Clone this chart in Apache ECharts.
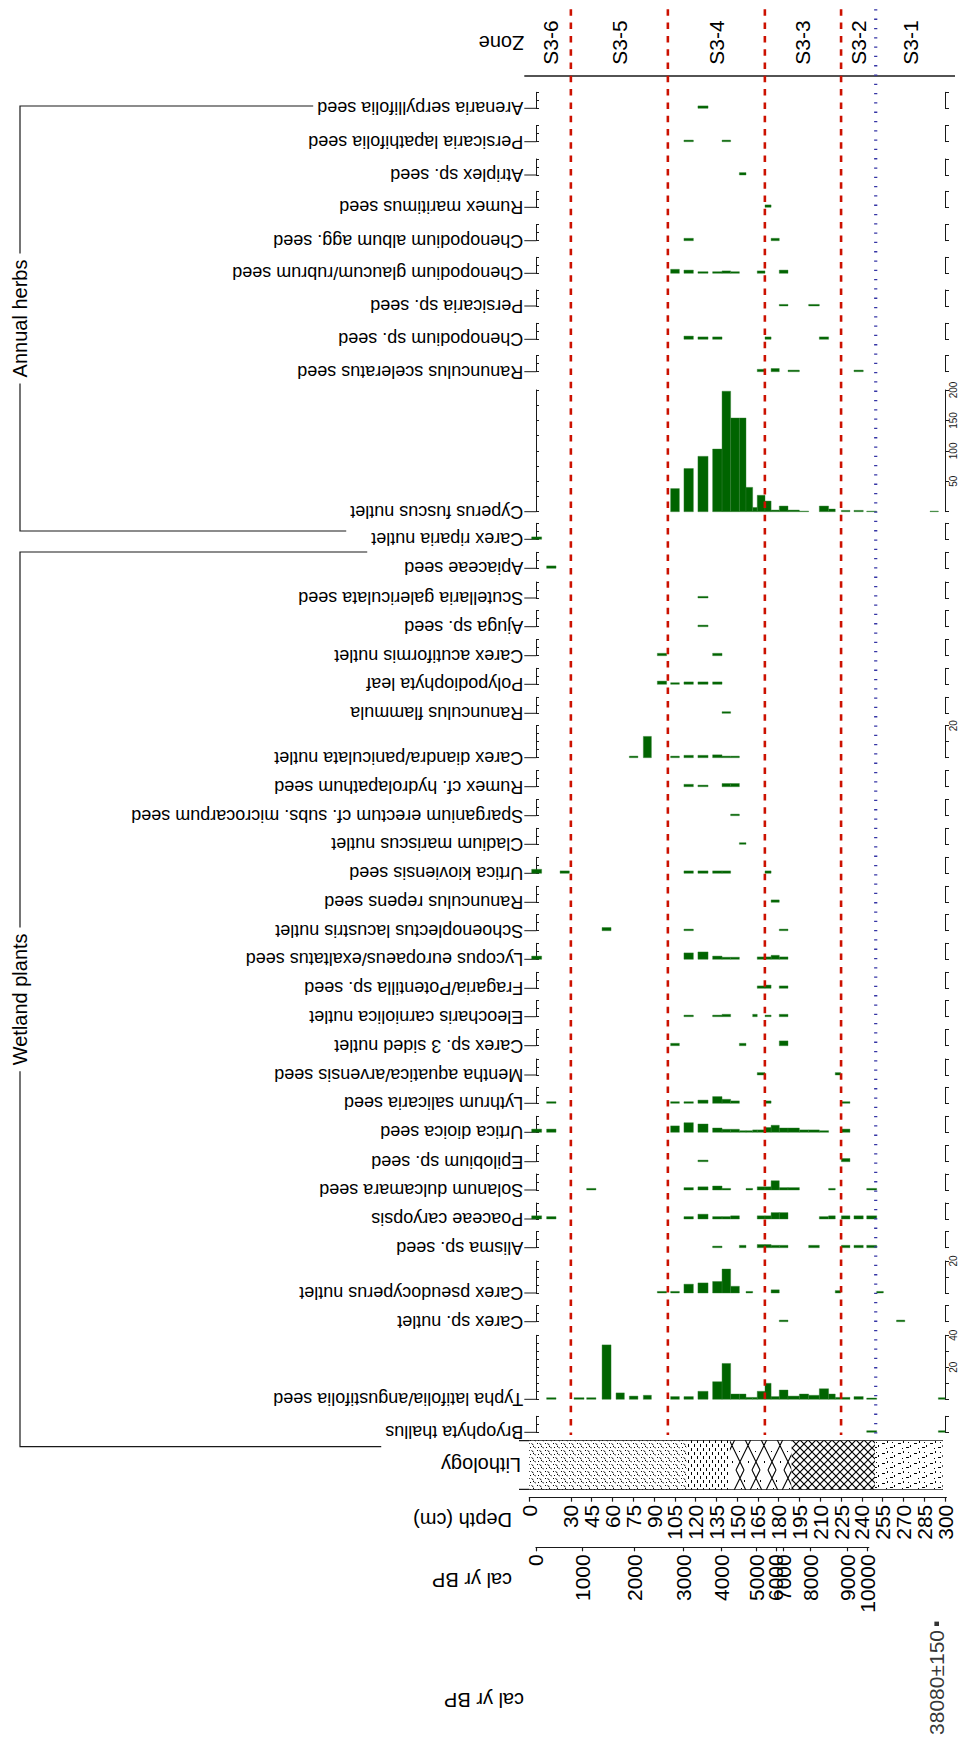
<!DOCTYPE html>
<html>
<head>
<meta charset="utf-8">
<script src="https://cdn.jsdelivr.net/npm/echarts@6/dist/echarts.min.js"></script>
<style>
html,body{margin:0;padding:0;background:#fff;}
#chart{width:969px;height:1741px;}
</style>
</head>
<body>
<div id="chart"></div>
<script>
// ---- Sample intervals (cm) ----
const sampleTop  = [1.7,12.5,22.2,32.3,41.4,52.5,62.6,72.2,82.3,92.4,102.0,111.6,121.7,132.3,139.1,145.3,151.6,156.4,161.2,164.5,170.1,174.5,180.4,186.7,194.9,201.6,209.3,216.0,220.8,225.2,234.3,243.5,250.7,265.0,289.2,295.2];
const sampleBase = [8.9,19.3,28.9,39.5,48.1,59.0,68.6,78.4,88.1,99.1,108.3,118.4,129.0,139.1,145.3,151.6,156.4,161.2,164.5,170.1,174.5,180.4,186.7,194.9,201.6,209.3,216.0,220.8,224.7,231.4,241.0,250.7,255.5,271.0,295.2,300.0];

// ---- Macrofossil counts: [sample index, count] ----
const bryophyta      = [[31,1],[35,1]];
const typha          = [[1,1],[3,1],[4,1],[5,34],[6,4],[7,2],[8,2.5],[10,1.7],[11,1.7],[12,5],[13,11],[14,22.4],[15,3.3],[16,3.3],[17,1.2],[18,1.2],[19,5],[20,10],[21,1.7],[22,5.8],[23,2],[24,3.3],[25,2.5],[26,6.6],[27,3.3],[28,1.2],[29,1.2],[30,1.7],[31,0.8],[35,1]];
const carexSp        = [[22,1],[33,1]];
const carexPseudo    = [[9,1],[10,1],[11,5.5],[12,6.3],[13,7.2],[14,15],[15,4.2],[17,1],[21,2],[28,1.5],[32,1]];
const alisma         = [[13,1],[16,1.5],[19,2],[20,2],[21,1.5],[22,1.5],[25,1.5],[29,1.5],[30,1.5],[31,1.5]];
const poaceae        = [[0,2],[1,1.5],[11,1.5],[12,3],[13,1.5],[14,1.5],[15,2],[19,2],[20,2],[21,4],[22,4],[26,1.5],[27,2],[29,2],[30,2],[31,2]];
const solanum        = [[4,1],[11,1.5],[12,2],[13,2.5],[14,1],[17,1],[19,2],[20,2],[21,5.8],[22,1.5],[23,1.5],[27,1],[31,1]];
const epilobium      = [[12,1],[29,2]];
const urticaDioica   = [[0,2],[1,2],[10,4],[11,6],[12,5.2],[13,2.7],[14,1.9],[15,1.9],[16,1],[17,1],[18,1.5],[19,1.5],[20,3],[21,4.4],[22,2.7],[23,2.7],[24,1.5],[25,1.5],[26,1],[29,2]];
const lythrum        = [[1,1],[10,1],[11,1],[12,2],[13,4.2],[14,2.5],[15,1.5],[20,1.5],[29,1]];
const mentha         = [[19,1.5],[28,1.5]];
const carex3         = [[10,1.5],[16,1.5],[22,3]];
const eleocharis     = [[11,1],[13,1],[14,1.5],[18,1.5],[20,1],[22,1.5]];
const fragaria       = [[19,1.5],[20,2],[22,1.5]];
const lycopus        = [[0,2],[11,4],[12,4.6],[13,2],[14,1.3],[15,1.3],[19,1.5],[20,1.5],[21,2.5],[22,1.5]];
const schoenoplectus = [[5,2],[11,1],[22,1]];
const ranRepens      = [[21,1.5]];
const urticaKiov     = [[0,2.5],[2,1.5],[11,1.5],[12,1.5],[13,1.5],[14,1.5],[20,1.5]];
const cladium        = [[16,1]];
const sparganium     = [[15,1]];
const rumexHydro     = [[11,1.5],[12,1],[14,2],[15,2]];
const carexDiandra   = [[7,1],[8,13.3],[10,1],[11,1.5],[12,1.5],[13,1.8],[14,1],[15,1]];
const ranFlammula    = [[14,1]];
const polypodiophyta = [[9,2],[10,1],[11,1.5],[12,1.5],[13,1.5]];
const carexAcut      = [[9,1.5],[13,1.5]];
const ajuga          = [[12,1]];
const scutellaria    = [[12,1]];
const apiaceae       = [[1,1.5]];
const carexRiparia   = [[0,1.5]];
const cyperus        = [[10,38],[11,71],[12,91],[13,103],[14,198],[15,154],[16,154],[17,40],[18,7],[19,27],[20,17.5],[21,2.7],[22,9.3],[23,2.7],[24,1],[26,9.3],[27,4.4],[29,2.2],[30,2.2],[31,1],[34,1]];
const ranSceleratus  = [[19,1.5],[21,2],[23,1],[30,1]];
const chenopodiumSp  = [[11,2],[12,1.5],[13,1.5],[20,1.5],[26,1.5]];
const persicariaSp   = [[22,1],[25,1]];
const chenGlaucum    = [[10,2.5],[11,2],[12,1],[13,1],[14,1.5],[15,1],[19,1.5],[22,2]];
const chenAlbum      = [[11,1.5],[21,1.5]];
const rumexMaritimus = [[20,1.5]];
const atriplex       = [[16,1.5]];
const persicariaLap  = [[11,1],[14,1]];
const arenaria       = [[12,1.5]];

const taxa = ['Bryophyta thallus','Typha latifolia/angustifolia seed','Carex sp. nutlet','Carex pseudocyperus nutlet','Alisma sp. seed','Poaceae caryopsis','Solanum dulcamara seed','Epilobium sp. seed','Urtica dioica seed','Lythrum salicaria seed','Mentha aquatica/arvensis seed','Carex sp. 3 sided nutlet','Eleocharis carniolica nutlet','Fragaria/Potentilla sp. seed','Lycopus europaeus/exaltatus seed','Schoenoplectus lacustris nutlet','Ranunculus repens seed','Urtica kioviensis seed','Cladium mariscus nutlet','Sparganium erectum cf. subs. microcarpum seed','Rumex cf. hydrolapathum seed','Carex diandra/paniculata nutlet','Ranunculus flammula','Polypodiophyta leaf','Carex acutiformis nutlet','Ajuga sp. seed','Scutellaria galericulata seed','Apiaceae seed','Carex riparia nutlet','Cyperus fuscus nutlet','Ranunculus sceleratus seed','Chenopodium sp. seed','Persicaria sp. seed','Chenopodium glaucum/rubrum seed','Chenopodium album agg. seed','Rumex maritimus seed','Atriplex sp. seed','Persicaria lapathifolia seed','Arenaria serpyllifolia seed'];
const taxonCounts = [bryophyta,typha,carexSp,carexPseudo,alisma,poaceae,solanum,epilobium,urticaDioica,lythrum,mentha,carex3,eleocharis,fragaria,lycopus,schoenoplectus,ranRepens,urticaKiov,cladium,sparganium,rumexHydro,carexDiandra,ranFlammula,polypodiophyta,carexAcut,ajuga,scutellaria,apiaceae,carexRiparia,cyperus,ranSceleratus,chenopodiumSp,persicariaSp,chenGlaucum,chenAlbum,rumexMaritimus,atriplex,persicariaLap,arenaria];

// Axis scale of each column
const axisMax = taxa.map((t, i) => i === 1 ? 40 : (i === 3 || i === 21) ? 20 : i === 29 ? 200 : 10);
const axisLabelValues = taxa.map((t, i) => i === 1 ? [20, 40] : (i === 3 || i === 21) ? [20] : i === 29 ? [50, 100, 150, 200] : []);

const groupNames = ['Wetland plants', 'Annual herbs'];
const groupFirst = [0, 29];
const groupLast  = [28, 38];

// Zones
const zoneNames  = ['S3-6','S3-5','S3-4','S3-3','S3-2','S3-1'];
const zoneBounds = [0, 30, 100, 170, 225, 250, 300];
const majorBoundaries = [30, 100, 170, 225];
const minorBoundaries = [250];

// Lithology units
const lithTop  = [0, 113.6, 144.8, 189.3, 249.5];
const lithBase = [113.6, 144.8, 189.3, 249.5, 298.3];

// Depth ticks
const depthTicks = [0,15,30,45,60,75,90,105,120,135,150,165,180,195,210,225,240,255,270,285,300];

// Age model ticks
const calAges   = [0,1000,2000,3000,4000,5000,6000,7000,8000,9000,10000];
const calDepths = [4.8,38.3,75.6,111.1,138.8,164.1,178.0,183.3,203.0,229.5,243.9];

// Radiocarbon date beyond the age model
const dateDepth = [294];
const dateLabel = ['38080±150'];

// ---- Layout ----
const FONT = '"Liberation Sans", Arial, Helvetica, sans-serif';
const NAME_SIZE = 18;
const X0 = 529.3, X300 = 945.0;
const K = (X300 - X0) / 300;
const dx = d => X0 + d * K;
const AXIS_X = 536;            // left frame line of each column
const LABEL_X = 524.3;         // where the column names end
const panelBase = [1432.3,1399.3,1321.7,1293.0,1247.7,1219.0,1190.0,1161.7,1132.3,1103.3,1075.0,1045.7,1016.7,988.3,959.3,930.7,902.3,873.3,844.3,815.7,786.7,757.7,713.3,684.3,655.7,626.7,598.0,568.3,539.3,511.7,371.7,339.3,306.0,273.3,240.7,207.3,175.0,141.7,108.3];
const pxPerUnit = taxa.map((t, i) => i === 29 ? 0.6085 : 1.6);
const INK = '#1a1a1a';
const BAR = '#006400';

const measure = document.createElement('canvas').getContext('2d');
measure.font = NAME_SIZE + 'px ' + FONT;
const nameWidth = taxa.map(t => measure.measureText(t).width);

const grids = [], xAxes = [], yAxes = [], series = [], graphics = [];
function addGrid(g) { g.outerBoundsMode = 'none'; grids.push(g); return grids.length - 1; }

function barItem(params, api) {
  const a = api.coord([api.value(0), 0]);
  const b = api.coord([api.value(1), api.value(2)]);
  return { type: 'rect', shape: { x: a[0], y: b[1], width: b[0] - a[0], height: a[1] - b[1] },
           style: { fill: BAR, stroke: '#2f7f2f', lineWidth: 0.4 } };
}

taxa.forEach((name, i) => {
  const max = axisMax[i];
  const h = max * pxPerUnit[i];
  const base = panelBase[i];
  const gi = addGrid({ left: X0, width: X300 - X0, top: base - h, height: h });
  const xi = xAxes.length;
  xAxes.push({ gridIndex: gi, type: 'value', min: 0, max: 300, show: false });
  const yi = yAxes.length;
  const big = max > 10;
  yAxes.push({ gridIndex: gi, type: 'value', position: 'right', min: 0, max: max,
    interval: max === 200 ? 50 : 10,
    axisLine: { show: true, onZero: false, lineStyle: { color: INK, width: 1 } },
    axisTick: { show: true, length: 4, lineStyle: { color: INK, width: 1 } },
    axisLabel: { show: big, rotate: 90, fontSize: 10, fontFamily: FONT, color: INK, margin: 3,
      formatter: v => axisLabelValues[i].indexOf(v) >= 0 ? String(v) : '' },
    splitLine: { show: false } });
  yAxes.push({ gridIndex: gi, type: 'value', position: 'left', offset: -(AXIS_X - X0), min: 0, max: max,
    interval: max === 200 ? 25 : 5,
    axisLine: { show: true, onZero: false, lineStyle: { color: INK, width: 1 } },
    axisTick: { show: true, inside: true, length: 3, lineStyle: { color: INK, width: 1 } },
    axisLabel: { show: false }, splitLine: { show: false } });
  series.push({ type: 'custom', xAxisIndex: xi, yAxisIndex: yi, silent: true, clip: false,
    data: taxonCounts[i].map(p => [sampleTop[p[0]], sampleBase[p[0]], p[1]]),
    encode: { x: [0, 1], y: 2 }, renderItem: barItem });
  graphics.push({ type: 'line', shape: { x1: LABEL_X, y1: base, x2: AXIS_X, y2: base }, style: { stroke: INK, lineWidth: 1 } });
  graphics.push({ type: 'text', x: LABEL_X - 1, y: base, rotation: Math.PI,
    style: { text: name, fontSize: NAME_SIZE, fontFamily: FONT, fill: '#000', align: 'left', verticalAlign: 'middle' } });
});

// Zone boundaries across all columns
const lineGrid = addGrid({ left: X0, width: X300 - X0, top: 9.3, height: 1435 - 9.3 });
const lineXi = xAxes.length;
xAxes.push({ gridIndex: lineGrid, type: 'value', min: 0, max: 300, show: false });
const lineYi = yAxes.length;
yAxes.push({ gridIndex: lineGrid, type: 'value', min: 0, max: 1, show: false });
function boundaryItem(style) {
  return function (params, api) {
    const a = api.coord([api.value(0), 1]);
    const b = api.coord([api.value(0), 0]);
    return { type: 'line', shape: { x1: a[0], y1: a[1], x2: b[0], y2: b[1] }, style: style };
  };
}
series.push({ type: 'custom', xAxisIndex: lineXi, yAxisIndex: lineYi, silent: true, clip: false, z: 5,
  data: majorBoundaries.map(d => [d]), encode: { x: 0 },
  renderItem: boundaryItem({ stroke: '#cc1100', lineWidth: 2.6, lineDash: [6.5, 6.8] }) });
series.push({ type: 'custom', xAxisIndex: lineXi, yAxisIndex: lineYi, silent: true, clip: false, z: 5,
  data: minorBoundaries.map(d => [d]), encode: { x: 0 },
  renderItem: boundaryItem({ stroke: '#3535a5', lineWidth: 3.2, lineDash: [1.3, 8] }) });

// Zone names
const zoneGrid = addGrid({ left: X0, width: X300 - X0, top: 20, height: 45 });
const zoneXi = xAxes.length;
xAxes.push({ gridIndex: zoneGrid, type: 'value', min: 0, max: 300, show: false });
const zoneYi = yAxes.length;
yAxes.push({ gridIndex: zoneGrid, type: 'value', min: 0, max: 1, show: false });
series.push({ type: 'custom', xAxisIndex: zoneXi, yAxisIndex: zoneYi, silent: true, clip: false,
  data: zoneNames.map((z, k) => [(zoneBounds[k] + zoneBounds[k + 1]) / 2, 0.5]),
  encode: { x: 0, y: 1 },
  renderItem: function (params, api) {
    const p = api.coord([api.value(0), api.value(1)]);
    return { type: 'text', x: p[0], y: p[1], rotation: Math.PI / 2,
      style: { text: zoneNames[params.dataIndex], fontSize: 21, fontFamily: FONT, fill: '#000', align: 'center', verticalAlign: 'middle' } };
  } });
graphics.push({ type: 'line', shape: { x1: LABEL_X, y1: 76, x2: 955, y2: 76 }, style: { stroke: INK, lineWidth: 1.3 } });
graphics.push({ type: 'text', x: LABEL_X, y: 42.7, rotation: Math.PI,
  style: { text: 'Zone', fontSize: 20, fontFamily: FONT, fill: '#000', align: 'left', verticalAlign: 'middle' } });

// Lithology hatch tiles
function tile(w, h, draw) {
  const c = document.createElement('canvas');
  c.width = w; c.height = h;
  const g = c.getContext('2d');
  g.fillStyle = '#fff'; g.fillRect(0, 0, w, h);
  g.strokeStyle = '#000'; g.fillStyle = '#000'; g.lineWidth = 1;
  draw(g);
  return c;
}
const LITH_TOP = 1440.7, LITH_H = 48.6;
const lithPatterns = [
  // peat: dots and short oblique strokes
  tile(8, 7, g => { g.fillRect(1, 1, 1, 1); g.fillRect(5, 4, 1, 1); g.fillRect(2, 5, 1, 1);
    g.beginPath(); g.moveTo(3.5, 1.5); g.lineTo(5.5, 3); g.moveTo(6.5, 5); g.lineTo(8, 6.5); g.stroke(); }),
  // silty peat: short vertical strokes
  tile(6, 8, g => { g.fillRect(1, 0, 1, 3); g.fillRect(4, 4, 1, 3); }),
  // open lattice with scattered dots
  tile(16, 49, g => { g.lineWidth = 1.1; g.beginPath();
    for (const o of [-32, -16, 0, 16]) { g.moveTo(o, 0); g.lineTo(o + 24, 49); g.moveTo(o + 24, 0); g.lineTo(o, 49); }
    g.stroke(); g.fillRect(8, 10, 1, 2); g.fillRect(3, 30, 1, 1); g.fillRect(12, 40, 1, 2); g.fillRect(5, 18, 1, 1); }),
  // dense lattice
  tile(8, 8, g => { g.lineWidth = 1.2; g.beginPath(); g.moveTo(0, 0); g.lineTo(8, 8); g.moveTo(8, 0); g.lineTo(0, 8); g.stroke(); }),
  // sparse dashes
  tile(16, 10, g => { g.fillRect(2, 3, 3, 1); g.fillRect(10, 7, 3, 1); g.fillRect(12, 2, 1, 1); g.fillRect(6, 8, 1, 1); g.fillRect(14, 5, 1, 2); g.fillRect(7, 1, 1, 2); })
];
const lithGrid = addGrid({ left: X0, width: X300 - X0, top: LITH_TOP, height: LITH_H });
const lithXi = xAxes.length;
xAxes.push({ gridIndex: lithGrid, type: 'value', min: 0, max: 300, show: false });
const lithYi = yAxes.length;
yAxes.push({ gridIndex: lithGrid, type: 'value', min: 0, max: 1, show: false });
series.push({ type: 'custom', xAxisIndex: lithXi, yAxisIndex: lithYi, silent: true, clip: false,
  data: lithTop.map((t, k) => [t, lithBase[k]]), encode: { x: [0, 1] },
  renderItem: function (params, api) {
    const a = api.coord([api.value(0), 1]);
    const b = api.coord([api.value(1), 0]);
    return { type: 'rect', shape: { x: a[0], y: a[1], width: b[0] - a[0], height: b[1] - a[1] },
      style: { fill: { image: lithPatterns[params.dataIndex], repeat: 'repeat', x: 0, y: LITH_TOP } } };
  } });
graphics.push({ type: 'line', shape: { x1: 519, y1: LITH_TOP, x2: 943, y2: LITH_TOP }, style: { stroke: INK, lineWidth: 1.3 } });
graphics.push({ type: 'line', shape: { x1: 519, y1: LITH_TOP + LITH_H, x2: 943, y2: LITH_TOP + LITH_H }, style: { stroke: INK, lineWidth: 1.3 } });
graphics.push({ type: 'text', x: 521, y: 1465, rotation: Math.PI,
  style: { text: 'Lithology', fontSize: 20, fontFamily: FONT, fill: '#000', align: 'left', verticalAlign: 'middle' } });

// Depth axis; a blank label just past the end keeps the last real label from being culled
const DEPTH_END = 301;
const depthGrid = addGrid({ left: X0, width: dx(DEPTH_END) - X0, top: 1495.7, height: 2 });
xAxes.push({ gridIndex: depthGrid, type: 'value', position: 'bottom', min: 0, max: DEPTH_END,
  axisLine: { show: true, onZero: false, lineStyle: { color: INK, width: 1.2 } },
  axisTick: { show: true, length: 4, customValues: depthTicks, lineStyle: { color: INK, width: 1.2 } },
  axisLabel: { show: true, rotate: 90, fontSize: 21, fontFamily: FONT, color: '#000', margin: 7,
    customValues: depthTicks.concat([DEPTH_END]), showMinLabel: true, showMaxLabel: false, hideOverlap: false,
    formatter: v => depthTicks.indexOf(v) >= 0 ? String(v) : '' },
  splitLine: { show: false } });
yAxes.push({ gridIndex: depthGrid, type: 'value', show: false });
graphics.push({ type: 'text', x: 512, y: 1520, rotation: Math.PI,
  style: { text: 'Depth (cm)', fontSize: 20, fontFamily: FONT, fill: '#000', align: 'left', verticalAlign: 'middle' } });

// Age axis (positioned by depth)
const CAL_END = 245;
const calGrid = addGrid({ left: dx(calDepths[0]), width: dx(CAL_END) - dx(calDepths[0]), top: 1545.3, height: 2 });
xAxes.push({ gridIndex: calGrid, type: 'value', position: 'bottom', min: calDepths[0], max: CAL_END,
  axisLine: { show: true, onZero: false, lineStyle: { color: INK, width: 1.2 } },
  axisTick: { show: true, length: 4, customValues: calDepths, lineStyle: { color: INK, width: 1.2 } },
  axisLabel: { show: true, rotate: 90, fontSize: 21, fontFamily: FONT, color: '#000', margin: 7,
    customValues: calDepths.concat([CAL_END]), showMinLabel: true, showMaxLabel: false, hideOverlap: false,
    formatter: v => { const k = calDepths.indexOf(v); return k >= 0 ? String(calAges[k]) : ''; } },
  splitLine: { show: false } });
yAxes.push({ gridIndex: calGrid, type: 'value', show: false });
graphics.push({ type: 'text', x: 512, y: 1580, rotation: Math.PI,
  style: { text: 'cal yr BP', fontSize: 20, fontFamily: FONT, fill: '#000', align: 'left', verticalAlign: 'middle' } });

// Radiocarbon date row
const dateGrid = addGrid({ left: X0, width: X300 - X0, top: 1618, height: 10 });
const dateXi = xAxes.length;
xAxes.push({ gridIndex: dateGrid, type: 'value', min: 0, max: 300, show: false });
const dateYi = yAxes.length;
yAxes.push({ gridIndex: dateGrid, type: 'value', min: 0, max: 1, show: false });
series.push({ type: 'scatter', xAxisIndex: dateXi, yAxisIndex: dateYi, silent: true,
  symbol: 'rect', symbolSize: [4.6, 4.4], itemStyle: { color: '#000' },
  data: dateDepth.map((d, k) => ({ value: [d, 0.42], name: dateLabel[k] })),
  label: { show: true, position: 'bottom', distance: 4, rotate: 90, align: 'right', verticalAlign: 'middle',
    fontSize: 21, fontFamily: FONT, color: '#000', formatter: p => p.name } });
graphics.push({ type: 'text', x: 524, y: 1700, rotation: Math.PI,
  style: { text: 'cal yr BP', fontSize: 20, fontFamily: FONT, fill: '#000', align: 'left', verticalAlign: 'middle' } });

// Group brackets: the end strokes run up to where the outermost names begin
const BR_X = 20;
const groupTopY = [552, 106];
const groupBottomY = [1446.7, 531];
groupNames.forEach((g, k) => {
  const yTop = groupTopY[k], yBottom = groupBottomY[k];
  const endTop = LABEL_X - 1 - nameWidth[groupLast[k]] - 4;
  const endBottom = LABEL_X - 1 - nameWidth[groupFirst[k]] - 4;
  graphics.push({ type: 'polyline', shape: { points: [[endTop, yTop], [BR_X, yTop], [BR_X, yBottom], [endBottom, yBottom]] },
    style: { stroke: INK, lineWidth: 1.2, fill: null } });
  graphics.push({ type: 'text', x: BR_X, y: (yTop + yBottom) / 2, rotation: Math.PI / 2,
    style: { text: g, fontSize: 20, fontFamily: FONT, fill: '#000', align: 'center', verticalAlign: 'middle',
      backgroundColor: '#fff', padding: [0, 6] } });
});

const chart = echarts.init(document.getElementById('chart'), null, { renderer: 'svg', width: 969, height: 1741 });
chart.setOption({
  animation: false,
  backgroundColor: '#fff',
  grid: grids, xAxis: xAxes, yAxis: yAxes, series: series,
  graphic: { elements: graphics }
});
</script>
</body>
</html>
